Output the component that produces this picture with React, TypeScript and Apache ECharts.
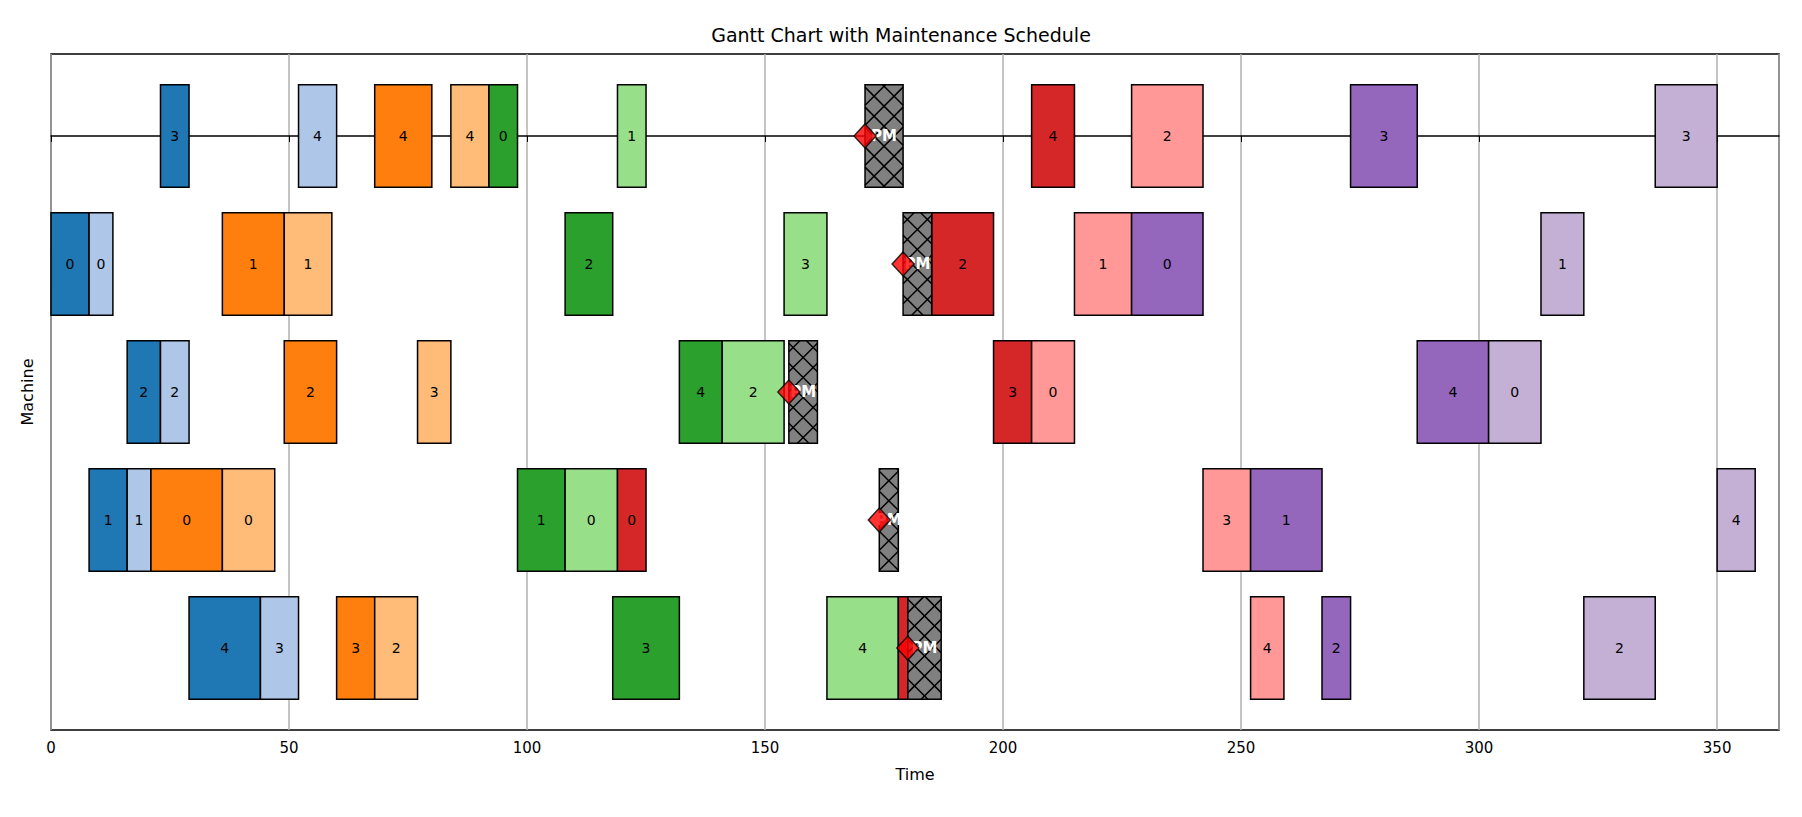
import React, { useEffect, useRef } from "react";
import * as echarts from "echarts";

const jobColors = ["#1f77b4", "#aec7e8", "#ff7f0e", "#ffbb78", "#2ca02c", "#98df8a", "#d62728", "#ff9896", "#9467bd", "#c5b0d5"];

// [machine, start, end, colorIndex, label]
const tasks: [number, number, number, number, string][] = [
  [0, 23, 29, 0, "3"], [0, 52, 60, 1, "4"], [0, 68, 80, 2, "4"], [0, 84, 92, 3, "4"], [0, 92, 98, 4, "0"],
  [0, 119, 125, 5, "1"], [0, 206, 215, 6, "4"], [0, 227, 242, 7, "2"], [0, 273, 287, 8, "3"], [0, 337, 350, 9, "3"],
  [1, 0, 8, 0, "0"], [1, 8, 13, 1, "0"], [1, 36, 49, 2, "1"], [1, 49, 59, 3, "1"], [1, 108, 118, 4, "2"],
  [1, 154, 163, 5, "3"], [1, 185, 198, 6, "2"], [1, 215, 227, 7, "1"], [1, 227, 242, 8, "0"], [1, 313, 322, 9, "1"],
  [2, 16, 23, 0, "2"], [2, 23, 29, 1, "2"], [2, 49, 60, 2, "2"], [2, 77, 84, 3, "3"], [2, 132, 141, 4, "4"],
  [2, 141, 154, 5, "2"], [2, 198, 206, 6, "3"], [2, 206, 215, 7, "0"], [2, 287, 302, 8, "4"], [2, 302, 313, 9, "0"],
  [3, 8, 16, 0, "1"], [3, 16, 21, 1, "1"], [3, 21, 36, 2, "0"], [3, 36, 47, 3, "0"], [3, 98, 108, 4, "1"],
  [3, 108, 119, 5, "0"], [3, 119, 125, 6, "0"], [3, 242, 252, 7, "3"], [3, 252, 267, 8, "1"], [3, 350, 358, 9, "4"],
  [4, 29, 44, 0, "4"], [4, 44, 52, 1, "3"], [4, 60, 68, 2, "3"], [4, 68, 77, 3, "2"], [4, 118, 132, 4, "3"],
  [4, 163, 178, 5, "4"], [4, 178, 180, 6, ""], [4, 252, 259, 7, "4"], [4, 267, 273, 8, "2"], [4, 322, 337, 9, "2"],
];

// [machine, start, end]
const maintenance: [number, number, number][] = [
  [0, 171, 179], [1, 179, 185], [2, 155, 161], [3, 174, 178], [4, 180, 187],
];

const BAR_H = 0.8;

function hatchLines(x0: number, y0: number, x1: number, y1: number, step: number) {
  const out: any[] = [];
  const w = x1 - x0, h = y1 - y0;
  // lines y - y0 = (x - x0) - c  (slope +1 in screen coords)
  for (let c = -h; c <= w; c += step) {
    const pts: [number, number][] = [];
    // param: x = x0 + c + t, y = y0 + t, t in [0,h], x in [x0,x1]
    const tMin = Math.max(0, -c), tMax = Math.min(h, w - c);
    if (tMax > tMin) {
      out.push({ type: "line", shape: { x1: x0 + c + tMin, y1: y0 + tMin, x2: x0 + c + tMax, y2: y0 + tMax }, style: { stroke: "#000", lineWidth: 1.5 } });
      out.push({ type: "line", shape: { x1: x1 - c - tMin, y1: y0 + tMin, x2: x1 - c - tMax, y2: y0 + tMax }, style: { stroke: "#000", lineWidth: 1.5 } });
    }
  }
  return out;
}

export default function App() {
  const ref = useRef<HTMLDivElement>(null);
  useEffect(() => {
    const chart = echarts.init(ref.current!, undefined, { renderer: "svg" });
    const font = "DejaVu Sans";
    chart.setOption({
      animation: false,
      textStyle: { fontFamily: font },
      title: { text: "Gantt Chart with Maintenance Schedule", left: "center", top: 12, textStyle: { fontFamily: font, fontSize: 19, fontWeight: "normal", color: "#000" } },
      grid: { left: 43, right: 15, top: 46, bottom: 79, show: true, borderColor: "#000", borderWidth: 1.5, backgroundColor: "#fff" },
      xAxis: {
        type: "value", min: 0, max: 363, interval: 50,
        name: "Time", nameLocation: "middle", nameGap: 36, nameTextStyle: { fontSize: 16, color: "#000" },
        axisLine: { show: true, lineStyle: { color: "#000", width: 1.5 } },
        axisTick: { show: true, length: 6, lineStyle: { color: "#000" } },
        axisLabel: { fontSize: 15, color: "#000", margin: 10, showMaxLabel: false },
        splitLine: { show: true, lineStyle: { color: "#b0b0b0", width: 1.5 } },
      },
      yAxis: {
        type: "value", min: -0.64, max: 4.64, inverse: true,
        name: "Machine", nameLocation: "middle", nameGap: 16, nameTextStyle: { fontSize: 16, color: "#000" },
        axisLine: { show: false }, axisTick: { show: false }, axisLabel: { show: false }, splitLine: { show: false },
      },
      series: [
        {
          type: "custom",
          data: tasks.map((t) => [t[1], t[2], t[0], t[3], t[4]]),
          encode: { x: [0, 1], y: 2 },
          renderItem: (params: any, api: any) => {
            const s = api.value(0), e = api.value(1), m = api.value(2);
            const p0 = api.coord([s, m - BAR_H / 2]);
            const p1 = api.coord([e, m + BAR_H / 2]);
            const col = jobColors[api.value(3)];
            const label = tasks[params.dataIndex][4];
            return {
              type: "group",
              children: [
                { type: "rect", shape: { x: p0[0], y: p0[1], width: p1[0] - p0[0], height: p1[1] - p0[1] }, style: { fill: col, stroke: "#000", lineWidth: 1.5 } },
                { type: "text", style: { text: label, x: (p0[0] + p1[0]) / 2, y: (p0[1] + p1[1]) / 2, align: "center", verticalAlign: "middle", fontSize: 14, fill: "#000", fontFamily: font } },
              ],
            };
          },
        },
        {
          type: "custom",
          data: maintenance.map((t) => [t[1], t[2], t[0]]),
          encode: { x: [0, 1], y: 2 },
          renderItem: (params: any, api: any) => {
            const s = api.value(0), e = api.value(1), m = api.value(2);
            const p0 = api.coord([s, m - BAR_H / 2]);
            const p1 = api.coord([e, m + BAR_H / 2]);
            return {
              type: "group",
              children: [
                { type: "rect", shape: { x: p0[0], y: p0[1], width: p1[0] - p0[0], height: p1[1] - p0[1] }, style: { fill: "#808080" } },
                ...hatchLines(p0[0], p0[1], p1[0], p1[1], 20),
                { type: "rect", shape: { x: p0[0], y: p0[1], width: p1[0] - p0[0], height: p1[1] - p0[1] }, style: { fill: "none", stroke: "#000", lineWidth: 1.5 } },
                { type: "text", style: { text: "PM", x: (p0[0] + p1[0]) / 2, y: (p0[1] + p1[1]) / 2, align: "center", verticalAlign: "middle", fontSize: 15, fontWeight: "bold", fill: "#fff", fontFamily: font } },
              ],
            };
          },
        },
        {
          type: "scatter",
          symbol: "diamond",
          symbolSize: [22, 24],
          itemStyle: { color: "#ff0000", borderColor: "#000", borderWidth: 1.5 },
          data: maintenance.map((t) => [t[1], t[0]]),
          z: 5,
        },
      ],
    });
    return () => chart.dispose();
  }, []);
  return <div ref={ref} style={{ width: 1786, height: 801 }} />;
}
